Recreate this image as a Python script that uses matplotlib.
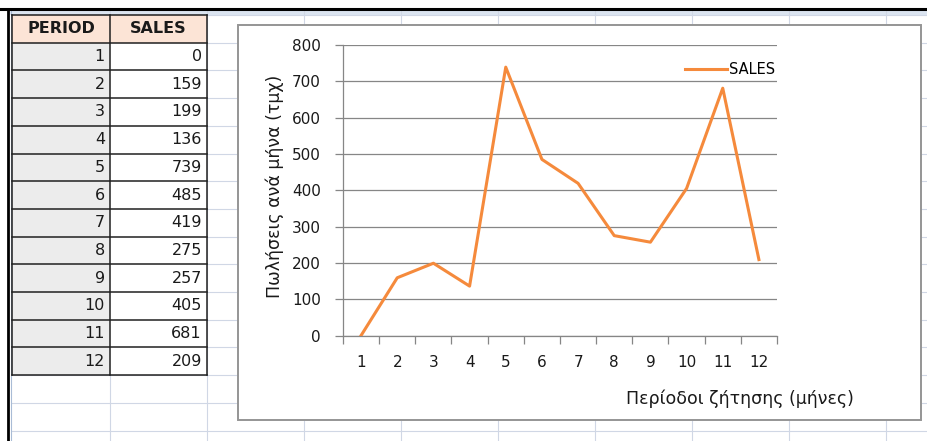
import matplotlib
matplotlib.use("Agg")
import matplotlib.pyplot as plt
from matplotlib.patches import Rectangle

plt.rcParams["font.family"] = ["DejaVu Sans"]

periods = [1, 2, 3, 4, 5, 6, 7, 8, 9, 10, 11, 12]
sales = [0, 159, 199, 136, 739, 485, 419, 275, 257, 405, 681, 209]
headers = ["PERIOD", "SALES"]
y_ticks = [0, 100, 200, 300, 400, 500, 600, 700, 800]
x_label = "Περίοδοι ζήτησης (μήνες)"
y_label = "Πωλήσεις ανά μήνα (τμχ)"
series_name = "SALES"

W, H = 928, 441
fig = plt.figure(figsize=(W / 100, H / 100), dpi=100)
fig.patch.set_facecolor("white")

# sheet background in pixel coordinates
bg = fig.add_axes([0, 0, 1, 1])
bg.set_xlim(0, W)
bg.set_ylim(H, 0)
bg.axis("off")

grid_c = "#d0d7e5"
col_x = [12, 110, 207, 304, 401, 498, 595, 692, 789, 886]
row_top, row_h = 15, 27.7
row_y = [row_top + k * row_h for k in range(16)]

# column header strip and frame
bg.add_patch(Rectangle((9, 10), W - 9, 5, color="#dbe4f0", lw=0, zorder=1))
bg.plot([0, W], [9, 9], color="black", lw=2.2, zorder=5)
bg.plot([8, 8], [9, H], color="black", lw=2.0, zorder=5)
bg.plot([11.5, 11.5], [10, H], color="#a9bcd6", lw=0.8, zorder=2)

for x in col_x[1:]:
    bg.plot([x, x], [10, H], color=grid_c, lw=0.8, zorder=1)
for y in row_y:
    bg.plot([12, W], [y, y], color=grid_c, lw=0.8, zorder=1)

# data table
x0, x1, x2 = col_x[0], col_x[1], col_x[2]
bg.add_patch(Rectangle((x0, row_y[0]), x2 - x0, row_h, color="#fce4d6", lw=0, zorder=2))
bg.add_patch(Rectangle((x0, row_y[1]), x1 - x0, row_h * len(periods),
                       color="#ececec", lw=0, zorder=2))
bg.add_patch(Rectangle((x1, row_y[1]), x2 - x1, row_h * len(periods),
                       color="white", lw=0, zorder=2))
n_rows = len(periods) + 1
for k in range(n_rows + 1):
    bg.plot([x0, x2], [row_y[k], row_y[k]], color="#202020", lw=1.1, zorder=3)
for x in (x0, x1, x2):
    bg.plot([x, x], [row_y[0], row_y[n_rows]], color="#202020", lw=1.1, zorder=3)

tfont = dict(fontsize=11.5, color="#1a1a1a", va="center", zorder=4)
bg.text((x0 + x1) / 2, row_y[0] + row_h / 2, headers[0], ha="center",
        fontweight="bold", **tfont)
bg.text((x1 + x2) / 2, row_y[0] + row_h / 2, headers[1], ha="center",
        fontweight="bold", **tfont)
for i, (p, s) in enumerate(zip(periods, sales)):
    yc = row_y[i + 1] + row_h / 2
    bg.text(x1 - 5, yc, str(p), ha="right", **tfont)
    bg.text(x2 - 5, yc, str(s), ha="right", **tfont)

# chart frame
bg.add_patch(Rectangle((238, 25), 683, 395, facecolor="white",
                       edgecolor="#959595", lw=1.4, zorder=6))

# plot area
pl, pr, pt, pb = 343, 777, 45, 335.5
ax = fig.add_axes([pl / W, (H - pb) / H, (pr - pl) / W, (pb - pt) / H], zorder=7)
ax.patch.set_alpha(0)
axis_c = "#868686"

ax.plot(periods, sales, color="#f58a3c", lw=2.2, label=series_name, zorder=3)
ax.set_xlim(0.5, len(periods) + 0.5)
ax.set_ylim(y_ticks[0], y_ticks[-1])

ax.set_yticks(y_ticks)
ax.yaxis.grid(True, color=axis_c, lw=0.9)
ax.set_axisbelow(True)
ax.tick_params(axis="y", length=6, width=0.9, color=axis_c, pad=10,
               labelsize=11, labelcolor="#1a1a1a")

ax.set_xticks([p - 0.5 for p in periods] + [periods[-1] + 0.5])
ax.set_xticklabels([])
ax.set_xticks(periods, minor=True)
ax.set_xticklabels([str(p) for p in periods], minor=True)
ax.tick_params(axis="x", which="major", length=6, width=0.9, color=axis_c)
ax.tick_params(axis="x", which="minor", length=0, pad=14,
               labelsize=11, labelcolor="#1a1a1a")

for side in ("top", "right"):
    ax.spines[side].set_visible(False)
for side in ("left", "bottom"):
    ax.spines[side].set_color(axis_c)
    ax.spines[side].set_linewidth(0.9)

ax.legend(loc="center left", bbox_to_anchor=(685 / W, (H - 70) / H),
          bbox_transform=fig.transFigure, frameon=False, fontsize=10.5,
          handlelength=2.9, handletextpad=0.15, borderpad=0, borderaxespad=0)

fig.text(740 / W, (H - 399) / H, x_label, ha="center", va="center",
         fontsize=12.5, color="#1a1a1a", zorder=8)
fig.text(275 / W, (H - 186) / H, y_label, ha="center", va="center",
         rotation=90, fontsize=12.5, color="#1a1a1a", zorder=8)

fig.savefig("out.png", dpi=100)
